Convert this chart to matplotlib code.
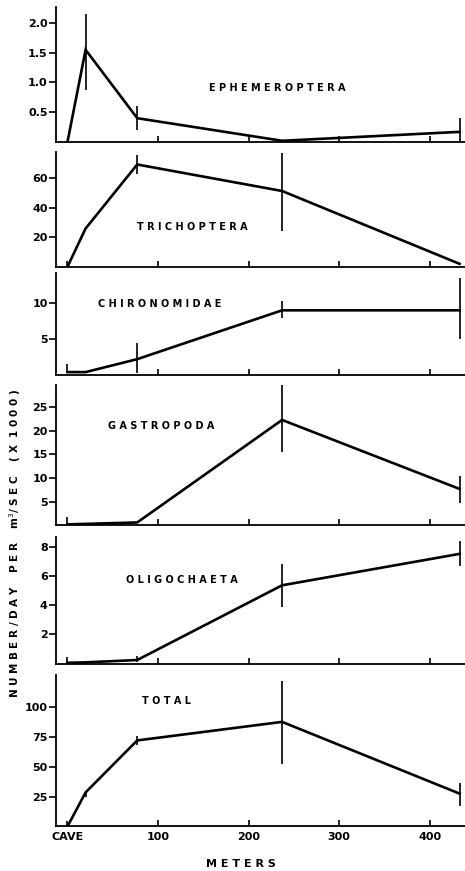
import numpy as np
import matplotlib
matplotlib.use("Agg")
import matplotlib.pyplot as plt

nan = np.nan

# distance downstream from the cave (m)
meters = [0, 20, 77, 237, 433]

names = ["EPHEMEROPTERA", "TRICHOPTERA", "CHIRONOMIDAE",
         "GASTROPODA", "OLIGOCHAETA", "TOTAL"]

ephem = [0, 1.55, 0.40, 0.02, 0.17]
ephem_lo = [nan, 0.88, 0.20, nan, 0.0]
ephem_hi = [nan, 2.15, 0.60, nan, 0.40]

trich = [0, 26, 69.5, 51.5, 2]
trich_lo = [0, nan, 63, 24.5, nan]
trich_hi = [4, nan, 76, 77.5, nan]

chiro = [0.4, 0.4, 2.2, 9.0, 9.0]
chiro_lo = [0.3, nan, 0.3, 8.0, 5.0]
chiro_hi = [1.5, nan, 4.4, 10.3, 13.5]

gastro = [0.2, 0.3, 0.6, 22.3, 7.7]
gastro_lo = [0.2, nan, nan, 15.5, 4.8]
gastro_hi = [1.8, nan, nan, 29.7, 10.5]

oligo = [0.05, 0.08, 0.24, 5.35, 7.5]
oligo_lo = [0.05, nan, 0.1, 3.9, 6.7]
oligo_hi = [0.46, nan, 0.5, 6.8, 8.4]

total = [0, 28.5, 72, 87.5, 27.5]
total_lo = [0, 25, 68.5, 52.5, 17.5]
total_hi = [5, 30, 75.5, 122, 36.5]

series = [(ephem, ephem_lo, ephem_hi), (trich, trich_lo, trich_hi),
          (chiro, chiro_lo, chiro_hi), (gastro, gastro_lo, gastro_hi),
          (oligo, oligo_lo, oligo_hi), (total, total_lo, total_hi)]

yticks = [[0.5, 1.0, 1.5, 2.0], [20, 40, 60], [5, 10],
          [5, 10, 15, 20, 25], [2, 4, 6, 8], [25, 50, 75, 100]]
yticklabels = [["0.5", "1.0", "1.5", "2.0"], ["20", "40", "60"], ["5", "10"],
               ["5", "10", "15", "20", "25"], ["2", "4", "6", "8"],
               ["25", "50", "75", "100"]]
ytops = [2.27, 78, 14.2, 29.7, 8.65, 126.7]

xticks = [0, 100, 200, 300, 400]
xticklabels = ["CAVE", "100", "200", "300", "400"]

# axes boxes (left, bottom, width, height) in figure fractions
boxes = [(0.1204, 0.8370, 0.8796, 0.1550),
         (0.1204, 0.6937, 0.8796, 0.1318),
         (0.1204, 0.5695, 0.8796, 0.1171),
         (0.1204, 0.3969, 0.8796, 0.1611),
         (0.1204, 0.2382, 0.8796, 0.1452),
         (0.1204, 0.0511, 0.8796, 0.1739)]
label_pos = [(0.54, 0.40), (0.334, 0.35), (0.254, 0.70),
             (0.256, 0.71), (0.307, 0.66), (0.27, 0.83)]


def spaced(s):
    return " ".join(s)


fig = plt.figure(figsize=(4.65, 8.71), dpi=100)

for i in range(6):
    ax = fig.add_axes(boxes[i])
    y, lo, hi = series[i]
    ax.plot(meters, y, color="black", lw=1.9, solid_joinstyle="miter")
    ax.vlines(meters, lo, hi, color="black", lw=1.2)
    ax.set_xlim(-12.7, 439)
    ax.set_ylim(0, ytops[i])
    ax.spines["top"].set_visible(False)
    ax.spines["right"].set_visible(False)
    ax.spines["left"].set_linewidth(1.3)
    ax.spines["bottom"].set_linewidth(1.3)
    ax.set_yticks(yticks[i])
    ax.set_yticklabels(yticklabels[i], fontsize=8, fontweight="bold")
    ax.tick_params(axis="y", direction="out", length=5, width=1.2, pad=1)
    ax.set_xticks(xticks[1:])
    ax.tick_params(axis="x", direction="in", length=4, width=1.2)
    if i < 5:
        ax.set_xticklabels([])
    ax.text(label_pos[i][0], label_pos[i][1], spaced(names[i]),
            transform=ax.transAxes, ha="center", va="center",
            fontsize=7, fontweight="bold")

ax.set_xticks(xticks)
ax.set_xticklabels(xticklabels, fontsize=8, fontweight="bold")
ax.tick_params(axis="x", pad=4)
ax.xaxis.get_major_ticks()[0].tick1line.set_visible(False)

fig.text(0.518, 0.002, spaced("METERS"), ha="center", va="bottom",
         fontsize=8, fontweight="bold")
fig.text(0.032, 0.376, "N U M B E R / D A Y    P E R    m$^{3}$/ S E C    ( X  1 0 0 0 )",
         rotation=90, ha="center", va="center", fontsize=7.5, fontweight="bold")

fig.savefig("out.png", dpi=100)
